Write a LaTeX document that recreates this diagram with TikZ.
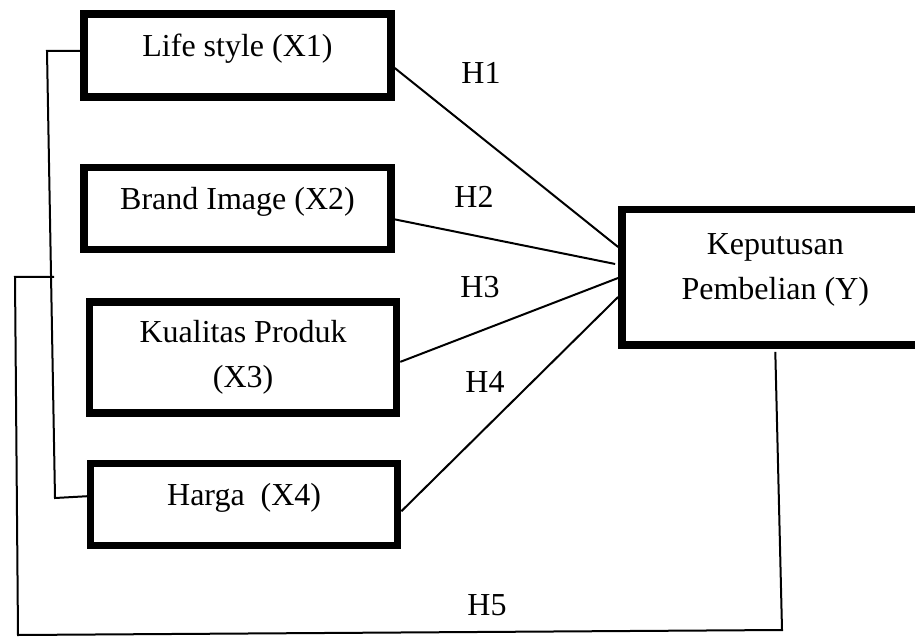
\documentclass[tikz,border=0pt]{standalone}
\usepackage{fontspec}
\setmainfont{Liberation Serif}
\usetikzlibrary{positioning,calc}

\begin{document}
\begin{tikzpicture}[x=0.375pt,y=-0.375pt,font=\fontsize{12}{17}\selectfont,
  box/.style={draw,line width=2.8pt,align=center,minimum width=115.1pt,inner sep=0pt},
  oneline/.style={text height=8pt,text depth=7pt},
  link/.style={line width=0.75pt},
  hyp/.style={inner sep=0pt}]
\clip (0,0) rectangle (915,637);
% variables on the left
\node[box,oneline,minimum height=31.1pt] (x1) at (237.5,55.5) {Life style (X1)};
\node[box,oneline,minimum height=30.75pt,below=23.6pt of x1] (x2) {Brand Image (X2)};
\node[box,minimum height=41.6pt,below=16.9pt of x2,xshift=2.1pt] (x3) {Kualitas Produk\\ (X3)};
\node[box,oneline,minimum height=30.75pt,below=16.1pt of x3,xshift=0.4pt] (x4) {Harga~ (X4)};
% dependent variable
\node[box,minimum height=50.8pt,text depth=8pt] (y) at (775.3,277.5) {Keputusan\\ Pembelian (Y)};
% hypotheses
\draw[link] ($(x1.east)+(0,12.5)$) -- ($(y.west)+(0,-30.5)$);
\draw[link] ($(x2.east)+(0,11)$) -- ($(y.west)+(-3,-13.5)$);
\draw[link] ($(x3.east)+(0,4.5)$) -- ($(y.west)+(0,0.5)$);
\draw[link] ($(x4.east)+(0,7)$) -- ($(y.west)+(0,19.5)$);
\node[hyp] (h1) at (481,73) {H1};
\node[hyp] (h2) at (474,197) {H2};
\node[hyp] (h3) at (480,287) {H3};
\node[hyp] (h4) at (485,382) {H4};
\node[hyp] (h5) at (487,605) {H5};
% simultaneous effect
\coordinate (lt) at (47,51);
\coordinate (lb) at (55,498);
\draw[link] ($(x1.west)+(0,-4.5)$) -- (lt) -- (lb) -- ($(x4.west)+(0,-8)$);
\coordinate (ls) at (54,277);
\coordinate (lc1) at (15,277);
\coordinate (lc2) at (18,635);
\coordinate (lc3) at (782,630);
\draw[link] (ls) -- (lc1) -- (lc2) -- (lc3) -- ($(y.south)+(0,3)$);
\end{tikzpicture}
\end{document}
